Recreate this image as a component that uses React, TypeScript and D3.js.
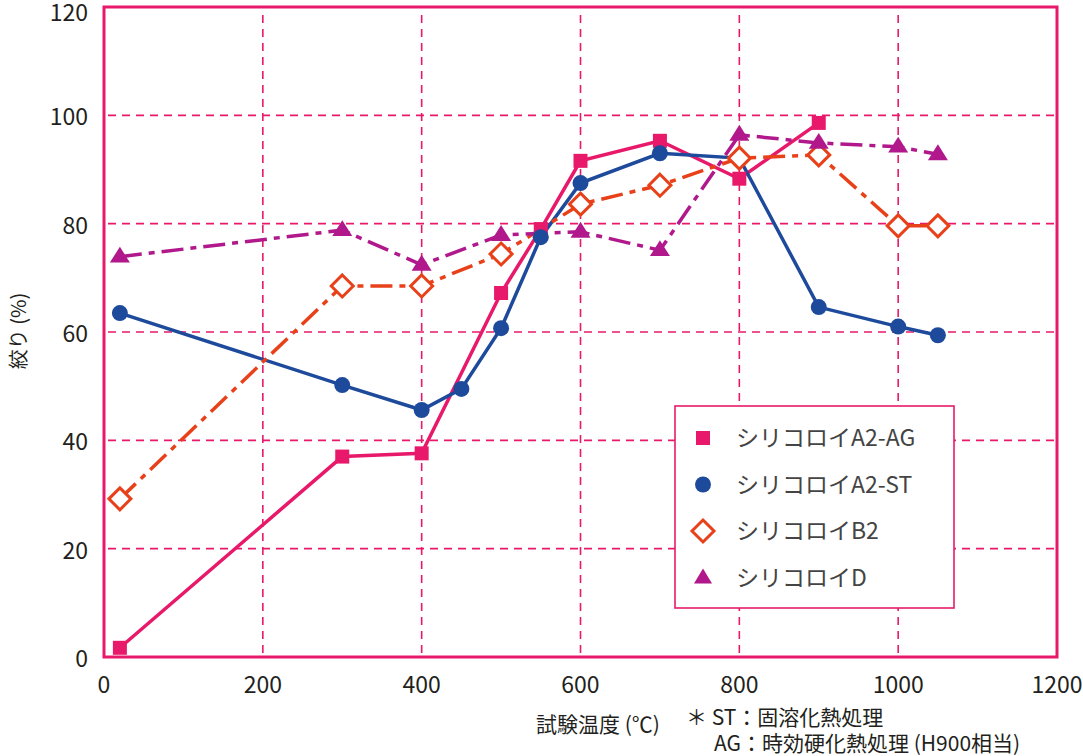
import React from 'react';
import * as d3 from 'd3';

interface Point {
  x: number;
  y: number;
}

// 試験温度 (℃) と絞り (%)
const tempsAG = [20, 300, 400, 500, 550, 600, 700, 800, 900];
const valuesAG = [1.7, 37, 37.6, 67.2, 79, 91.6, 95.3, 88.3, 98.6];

const tempsST = [20, 300, 400, 450, 500, 550, 600, 700, 800, 900, 1000, 1050];
const valuesST = [63.5, 50.2, 45.6, 49.5, 60.7, 77.5, 87.5, 93, 92.1, 64.6, 61, 59.4];

const tempsB2 = [20, 300, 400, 500, 600, 700, 800, 900, 1000, 1050];
const valuesB2 = [29.2, 68.5, 68.5, 74.4, 83.6, 87.1, 92.1, 92.7, 79.6, 79.6];

const tempsD = [20, 300, 400, 500, 600, 700, 800, 900, 1000, 1050];
const valuesD = [73.9, 78.8, 72.4, 77.9, 78.5, 75.1, 96.4, 94.9, 94.2, 92.8];

const xTicks = [0, 200, 400, 600, 800, 1000, 1200];
const yTicks = [0, 20, 40, 60, 80, 100, 120];

const seriesNames = ['シリコロイA2-AG', 'シリコロイA2-ST', 'シリコロイB2', 'シリコロイD'];

const toPoints = (xs: number[], ys: number[]): Point[] => xs.map((x, i) => ({ x, y: ys[i] }));

const PINK = '#e8196a';
const BLUE = '#1e4a9c';
const ORANGE = '#e8411a';
const PURPLE = '#b0188c';
const FONT = '"Noto Sans CJK JP", "Noto Sans", sans-serif';

const App = () => {
  const width = 1083;
  const height = 756;
  const left = 104;
  const right = 1057;
  const top = 7;
  const bottom = 657;

  const xScale = d3.scaleLinear().domain([0, 1200]).range([left, right]);
  const yScale = d3.scaleLinear().domain([0, 120]).range([bottom, top]);

  const line = d3
    .line<Point>()
    .x((d) => xScale(d.x))
    .y((d) => yScale(d.y));

  const series = [
    { name: seriesNames[0], pts: toPoints(tempsAG, valuesAG), color: PINK, dash: undefined, marker: 'square' },
    { name: seriesNames[1], pts: toPoints(tempsST, valuesST), color: BLUE, dash: undefined, marker: 'circle' },
    { name: seriesNames[2], pts: toPoints(tempsB2, valuesB2), color: ORANGE, dash: '22 7 6 7', marker: 'diamond' },
    { name: seriesNames[3], pts: toPoints(tempsD, valuesD), color: PURPLE, dash: '22 7 6 7', marker: 'triangle' },
  ];

  const marker = (type: string, cx: number, cy: number, color: string, key: string | number) => {
    if (type === 'square') {
      return <rect key={key} x={cx - 7} y={cy - 7} width={14} height={14} fill={color} />;
    }
    if (type === 'circle') {
      return <circle key={key} cx={cx} cy={cy} r={8} fill={color} />;
    }
    if (type === 'diamond') {
      const r = 11;
      return (
        <path
          key={key}
          d={`M${cx},${cy - r}L${cx + r},${cy}L${cx},${cy + r}L${cx - r},${cy}Z`}
          fill="#fff"
          stroke={color}
          strokeWidth={3}
        />
      );
    }
    const s = 9;
    return (
      <path
        key={key}
        d={`M${cx},${cy - s - 1}L${cx + s + 1},${cy + s * 0.65}L${cx - s - 1},${cy + s * 0.65}Z`}
        fill={color}
      />
    );
  };

  return (
    <svg
      width={width}
      height={height}
      style={{ position: 'absolute', left: 0, top: 0, background: '#fff' }}
      fontFamily={FONT}
    >
      {/* グリッド */}
      {xTicks.slice(1, -1).map((t) => (
        <line
          key={`gx${t}`}
          x1={xScale(t)}
          x2={xScale(t)}
          y1={top + 8}
          y2={bottom}
          stroke={PINK}
          strokeWidth={1.6}
          strokeDasharray="8 6"
        />
      ))}
      {yTicks.slice(1, -1).map((t) => (
        <line
          key={`gy${t}`}
          x1={left + 4}
          x2={right}
          y1={yScale(t)}
          y2={yScale(t)}
          stroke={PINK}
          strokeWidth={1.6}
          strokeDasharray="8 6"
        />
      ))}

      {/* 枠 */}
      <rect x={left} y={top} width={right - left} height={bottom - top} fill="none" stroke={PINK} strokeWidth={3} />

      {/* 目盛りラベル */}
      {yTicks.map((t) => (
        <text key={`ty${t}`} x={left - 16} y={Math.max(yScale(t) + 10, 21)} textAnchor="end" fontSize={23} fill="#231f20">
          {t}
        </text>
      ))}
      {xTicks.map((t) => (
        <text key={`tx${t}`} x={xScale(t)} y={bottom + 36} textAnchor="middle" fontSize={23} fill="#231f20">
          {t}
        </text>
      ))}

      {/* 系列 */}
      {series.map((s) => (
        <path
          key={`l${s.name}`}
          d={line(s.pts) || ''}
          fill="none"
          stroke={s.color}
          strokeWidth={3.5}
          strokeDasharray={s.dash}
        />
      ))}
      {series.map((s) => (
        <g key={`m${s.name}`}>{s.pts.map((p, i) => marker(s.marker, xScale(p.x), yScale(p.y), s.color, i))}</g>
      ))}

      {/* 凡例 */}
      <rect x={675} y={406} width={279} height={202} fill="#fff" stroke={PINK} strokeWidth={1.6} />
      {series.map((s, i) => {
        const y = 438 + i * 46.5;
        return (
          <g key={`lg${s.name}`}>
            {s.marker === 'square' ? (
              <rect x={696} y={y - 7} width={14} height={14} fill={s.color} />
            ) : s.marker === 'triangle' ? (
              <path d={`M703,${y - 9}L712,${y + 6}L694,${y + 6}Z`} fill={s.color} />
            ) : (
              marker(s.marker, 703, y, s.color, 0)
            )}
            <text x={736} y={y + 8} fontSize={23} fill="#444">
              {s.name}
            </text>
          </g>
        );
      })}

      {/* 軸タイトル */}
      <text
        transform="translate(26,331) rotate(-90)"
        textAnchor="middle"
        fontSize={20}
        fill="#231f20"
      >
        絞り (%)
      </text>
      <text x={598} y={732} textAnchor="middle" fontSize={21} fill="#231f20">
        試験温度 (℃)
      </text>
      <text x={686} y={725} fontSize={21} fill="#231f20">
        ＊ ST：固溶化熱処理
      </text>
      <text x={714} y={751} fontSize={21} fill="#231f20">
        AG：時効硬化熱処理 (H900相当)
      </text>
    </svg>
  );
};

export default App;
